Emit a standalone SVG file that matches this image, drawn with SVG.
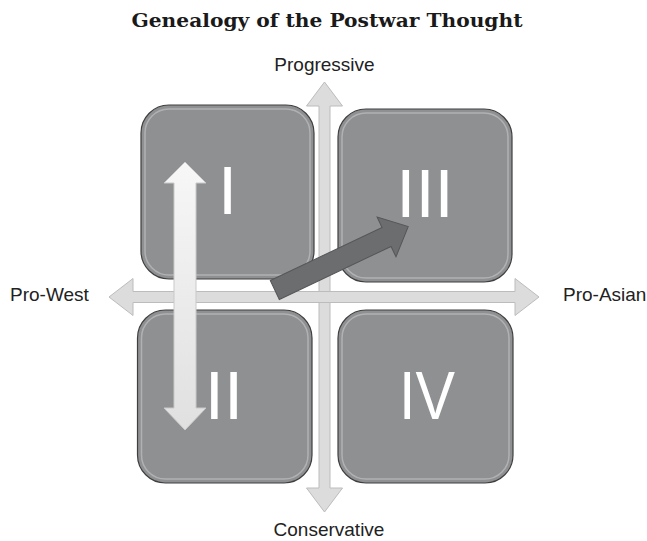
<svg xmlns="http://www.w3.org/2000/svg" width="647" height="541" viewBox="0 0 647 541">
<style>
.title{font-family:"DejaVu Serif","Liberation Serif",serif;font-weight:bold;font-size:19px;fill:#1a1a1a}
.lbl{font-family:"Liberation Sans",Arial,sans-serif;font-size:19px;fill:#222}
.num{font-family:"Liberation Sans",Arial,sans-serif;font-size:69px;fill:#fff}
.axis{fill:#dcdcdc;stroke:#bcbcbc;stroke-width:1}
.box{fill:#8f9092;stroke:#3f3f3f;stroke-width:1.2}
.gloss{fill:none;stroke:#ffffff;stroke-opacity:0.3;stroke-width:1.5}
.dbl{fill:url(#dblg);stroke:#c9c9c9;stroke-width:1}
.diag{fill:#6c6d6f;stroke:#555657;stroke-width:1}
</style>
<defs>
<linearGradient id="dblg" x1="0" y1="0" x2="0" y2="1">
<stop offset="0" stop-color="#f7f7f7"/>
<stop offset="1" stop-color="#e0e0e0"/>
</linearGradient>
</defs>
<text class="title" x="327" y="26.5" text-anchor="middle" textLength="391" lengthAdjust="spacingAndGlyphs">Genealogy of the Postwar Thought</text>
<g id="connectors">
<path id="axis-vertical" class="axis" d="M324.5,82 L342.5,106 L330,106 L330,488 L342.5,488 L324.5,512 L306.5,488 L319,488 L319,106 L306.5,106 Z"/>
<path id="axis-horizontal" class="axis" d="M109,297 L133,278.5 L133,291.5 L515,291.5 L515,278.5 L539,297 L515,315.5 L515,302.5 L133,302.5 L133,315.5 Z"/>
</g>
<g id="quadrant-I">
<rect class="box" x="141" y="105" width="173" height="174" rx="28"/>
<rect class="gloss" x="145" y="109" width="165" height="166" rx="24"/>
<text class="num" x="227.5" y="214" text-anchor="middle">I</text>
</g>
<g id="quadrant-II">
<rect class="box" x="137.5" y="310" width="174.5" height="173" rx="28"/>
<rect class="gloss" x="141.5" y="314" width="166.5" height="165" rx="24"/>
<text class="num" x="224" y="419" text-anchor="middle">II</text>
</g>
<g id="quadrant-III">
<rect class="box" x="338" y="109" width="174" height="173" rx="28"/>
<rect class="gloss" x="342" y="113" width="166" height="165" rx="24"/>
<text class="num" x="425" y="217" text-anchor="middle">III</text>
</g>
<g id="quadrant-IV">
<rect class="box" x="338" y="310" width="175" height="173" rx="28"/>
<rect class="gloss" x="342" y="314" width="167" height="165" rx="24"/>
<text class="num" x="427" y="419" text-anchor="middle" textLength="56" lengthAdjust="spacingAndGlyphs">IV</text>
</g>
<g id="connectors-arrows">
<path id="arrow-I-II" class="dbl" d="M185,162 L206,183 L196,183 L196,408 L206,408 L185,430 L164,408 L174,408 L174,183 L164,183 Z"/>
<path id="arrow-to-III" class="diag" transform="translate(274.8,290) rotate(-25.4)" d="M0,-10.5 L123.7,-10.5 L123.7,-22 L147.7,0 L123.7,22 L123.7,10.5 L0,10.5 Z"/>
</g>
<g id="labels">
<text class="lbl" x="324.5" y="71" text-anchor="middle">Progressive</text>
<text class="lbl" x="329" y="536" text-anchor="middle">Conservative</text>
<text class="lbl" x="10" y="301">Pro-West</text>
<text class="lbl" x="563" y="301">Pro-Asian</text>
</g>
</svg>
